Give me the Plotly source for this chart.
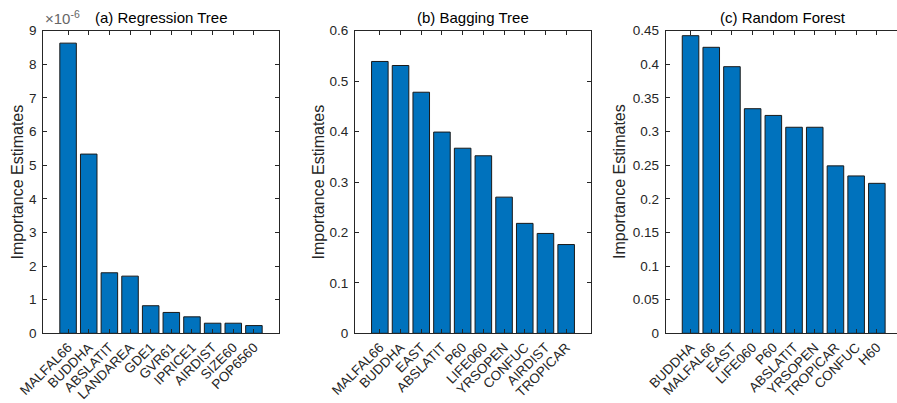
import plotly.graph_objects as go

# ---- data ----
reg_names = ["MALFAL66", "BUDDHA", "ABSLATIT", "LANDAREA", "GDE1", "GVR61",
             "IPRICE1", "AIRDIST", "SIZE60", "POP6560"]
reg_values = [8.63e-6, 5.33e-6, 1.80e-6, 1.70e-6, 0.82e-6, 0.62e-6,
              0.49e-6, 0.30e-6, 0.30e-6, 0.23e-6]

bag_names = ["MALFAL66", "BUDDHA", "EAST", "ABSLATIT", "P60", "LIFE060",
             "YRSOPEN", "CONFUC", "AIRDIST", "TROPICAR"]
bag_values = [0.539, 0.531, 0.478, 0.399, 0.367, 0.352, 0.270, 0.218, 0.198, 0.176]

rf_names = ["BUDDHA", "MALFAL66", "EAST", "LIFE060", "P60", "ABSLATIT",
            "YRSOPEN", "TROPICAR", "CONFUC", "H60"]
rf_values = [0.4426, 0.4253, 0.3965, 0.334, 0.324, 0.3064, 0.3064, 0.249, 0.234, 0.223]

reg_ticks = [i * 1e-6 for i in range(10)]
reg_ticktext = [str(i) for i in range(10)]
bag_ticks = [0, 0.1, 0.2, 0.3, 0.4, 0.5, 0.6]
bag_ticktext = ["0", "0.1", "0.2", "0.3", "0.4", "0.5", "0.6"]
rf_ticks = [0, 0.05, 0.1, 0.15, 0.2, 0.25, 0.3, 0.35, 0.4, 0.45]
rf_ticktext = ["0", "0.05", "0.1", "0.15", "0.2", "0.25", "0.3", "0.35", "0.4", "0.45"]

titles = ["(a) Regression Tree", "(b) Bagging Tree", "(c) Random Forest"]
ylabel = "Importance Estimates"

# ---- style ----
W, H = 897, 403
BAR = "#0072BD"
AX = "#262626"
FONT = "Arial, Liberation Sans, sans-serif"

fig = go.Figure()
series = [(reg_names, reg_values), (bag_names, bag_values), (rf_names, rf_values)]
for i, (names, vals) in enumerate(series):
    fig.add_trace(go.Bar(
        x=names, y=vals, width=0.8,
        marker=dict(color=BAR, line=dict(color="#1a1a1a", width=1)),
        xaxis="x" if i == 0 else f"x{i+1}",
        yaxis="y" if i == 0 else f"y{i+1}",
        showlegend=False,
    ))

px_domains = [(43.3, 278.7), (355.0, 591.0), (665.7, 897.0)]
xranges = [[-1.2, 10.2], [-1.2, 10.2], [-1.2, -1.2 + (897.0 - 665.7) / 20.7]]
yranges = [[0, 9e-6], [0, 0.6], [0, 0.45]]
yticks = [(reg_ticks, reg_ticktext), (bag_ticks, bag_ticktext), (rf_ticks, rf_ticktext)]
y_dom = [1 - 333.3 / H, 1 - 30.7 / H]

layout = dict(
    width=W, height=H,
    margin=dict(l=0, r=0, t=0, b=0),
    paper_bgcolor="white", plot_bgcolor="white",
    font=dict(family=FONT, color=AX, size=13),
    bargap=0.2,
)
for i in range(3):
    sx = "" if i == 0 else str(i + 1)
    d0, d1 = px_domains[i]
    layout[f"xaxis{sx}"] = dict(
        domain=[d0 / W, min(d1 / W, 1.0)],
        anchor=f"y{sx}", type="category", range=xranges[i],
        showline=True, linecolor=AX, linewidth=1, mirror="ticks",
        ticks="inside", ticklen=4, tickcolor=AX, tickwidth=1,
        tickangle=-45, tickfont=dict(size=13.5, color=AX),
        showgrid=False, zeroline=False, fixedrange=True, automargin=False,
    )
    layout[f"yaxis{sx}"] = dict(
        domain=y_dom, anchor=f"x{sx}", range=yranges[i],
        tickvals=yticks[i][0], ticktext=yticks[i][1],
        showline=True, linecolor=AX, linewidth=1,
        mirror="ticks" if i < 2 else False,
        ticks="inside", ticklen=4, tickcolor=AX, tickwidth=1,
        tickfont=dict(size=13.5, color=AX), ticklabelstandoff=3,
        showgrid=False, zeroline=False, fixedrange=True, automargin=False,
    )
fig.update_layout(**layout)

ylabel_x = [16.5, 317.5, 619.0]
for i in range(3):
    d0, d1 = px_domains[i]
    fig.add_annotation(
        xref="paper", yref="paper",
        x=((d0 + d1) / 2 if i < 2 else (d0 + 901.0) / 2) / W, y=1 - 17.5 / H,
        text=titles[i], showarrow=False, xanchor="center", yanchor="middle",
        font=dict(size=15, color="black", family=FONT),
    )
    fig.add_annotation(
        xref="paper", yref="paper",
        x=ylabel_x[i] / W, y=1 - 182.0 / H,
        text=ylabel, textangle=-90, showarrow=False,
        xanchor="center", yanchor="middle",
        font=dict(size=16, color=AX, family=FONT),
    )

fig.add_annotation(
    xref="paper", yref="paper", x=43 / W, y=1 - 29 / H,
    text="×10<sup>-6</sup>", showarrow=False, xanchor="left", yanchor="bottom",
    font=dict(size=15, color="#666666", family=FONT),
)

fig.write_html("out.html")
